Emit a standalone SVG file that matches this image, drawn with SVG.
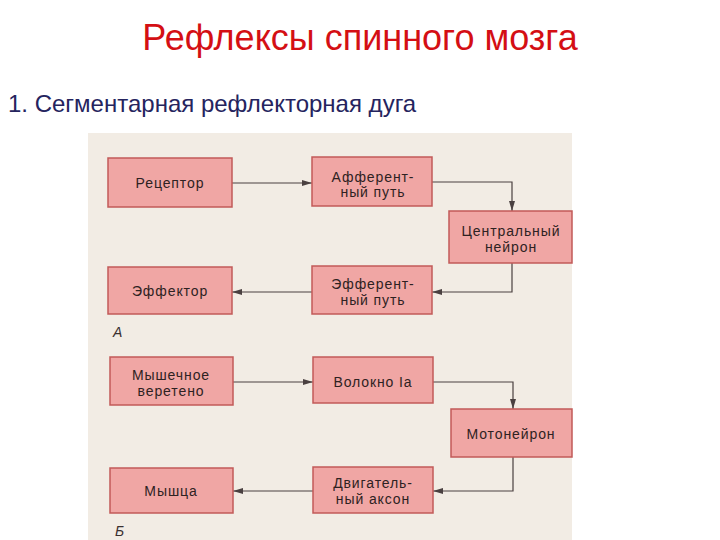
<svg xmlns="http://www.w3.org/2000/svg" width="720" height="540" viewBox="0 0 720 540">
<defs>
<style>
.title{font-family:"Liberation Sans",Arial,sans-serif;font-size:36px;fill:#d40f14}
.sub{font-family:"Liberation Sans",Arial,sans-serif;font-size:24px;fill:#25245e}
.box{fill:#f0a6a4;stroke:#c25a58;stroke-width:1.5}
.lbl{font-family:"Liberation Sans",Arial,sans-serif;font-size:14px;letter-spacing:0.9px;fill:#2e2222;text-anchor:middle}
.tag{font-family:"Liberation Sans",Arial,sans-serif;font-size:14px;font-style:italic;fill:#3a3030}
.con{fill:none;stroke:#4a4040;stroke-width:1.2}
</style>
<marker id="ah" viewBox="0 0 10 6" refX="10" refY="3" markerWidth="10" markerHeight="6" markerUnits="userSpaceOnUse" orient="auto">
<path d="M0,0 L10,3 L0,6 z" fill="#4a4040"/>
</marker>
</defs>
<rect width="720" height="540" fill="#ffffff"/>
<text class="title" x="360" y="50" text-anchor="middle">Рефлексы спинного мозга</text>
<text class="sub" x="8" y="112">1. Сегментарная рефлекторная дуга</text>
<rect x="88" y="133" width="484" height="407" fill="#f2ece4"/>
<g id="connectors">
<path class="con" d="M232,183 H312" marker-end="url(#ah)"/>
<path class="con" d="M432,182 H512 V211" marker-end="url(#ah)"/>
<path class="con" d="M512,263 V292 H432" marker-end="url(#ah)"/>
<path class="con" d="M312,292 H232" marker-end="url(#ah)"/>
<path class="con" d="M233,382 H313" marker-end="url(#ah)"/>
<path class="con" d="M433,382 H513 V409" marker-end="url(#ah)"/>
<path class="con" d="M513,457 V491 H433" marker-end="url(#ah)"/>
<path class="con" d="M313,491 H233" marker-end="url(#ah)"/>
</g>
<g id="receptor"><rect class="box" x="108" y="158" width="124" height="49"/><text class="lbl" x="170" y="188">Рецептор</text></g>
<g id="afferent"><rect class="box" x="312" y="157" width="120" height="49"/><text class="lbl" x="373" y="182">Афферент-</text><text class="lbl" x="373" y="197">ный путь</text></g>
<g id="central"><rect class="box" x="449" y="211" width="123" height="52"/><text class="lbl" x="511" y="236">Центральный</text><text class="lbl" x="511" y="252">нейрон</text></g>
<g id="effector"><rect class="box" x="108" y="267" width="124" height="47"/><text class="lbl" x="170" y="296">Эффектор</text></g>
<g id="efferent"><rect class="box" x="312" y="266" width="120" height="48"/><text class="lbl" x="373" y="289">Эфферент-</text><text class="lbl" x="373" y="305">ный путь</text></g>
<text class="tag" x="113" y="337">А</text>
<g id="spindle"><rect class="box" x="110" y="357" width="123" height="48"/><text class="lbl" x="171" y="380">Мышечное</text><text class="lbl" x="171" y="396">веретено</text></g>
<g id="fiber"><rect class="box" x="313" y="357" width="120" height="46"/><text class="lbl" x="373" y="387">Волокно  Iа</text></g>
<g id="motoneuron"><rect class="box" x="451" y="409" width="121" height="48"/><text class="lbl" x="511" y="439">Мотонейрон</text></g>
<g id="muscle"><rect class="box" x="110" y="468" width="123" height="45"/><text class="lbl" x="171" y="496">Мышца</text></g>
<g id="axon"><rect class="box" x="313" y="467" width="120" height="46"/><text class="lbl" x="373" y="488">Двигатель-</text><text class="lbl" x="373" y="504">ный аксон</text></g>
<text class="tag" x="115" y="536">Б</text>
</svg>
